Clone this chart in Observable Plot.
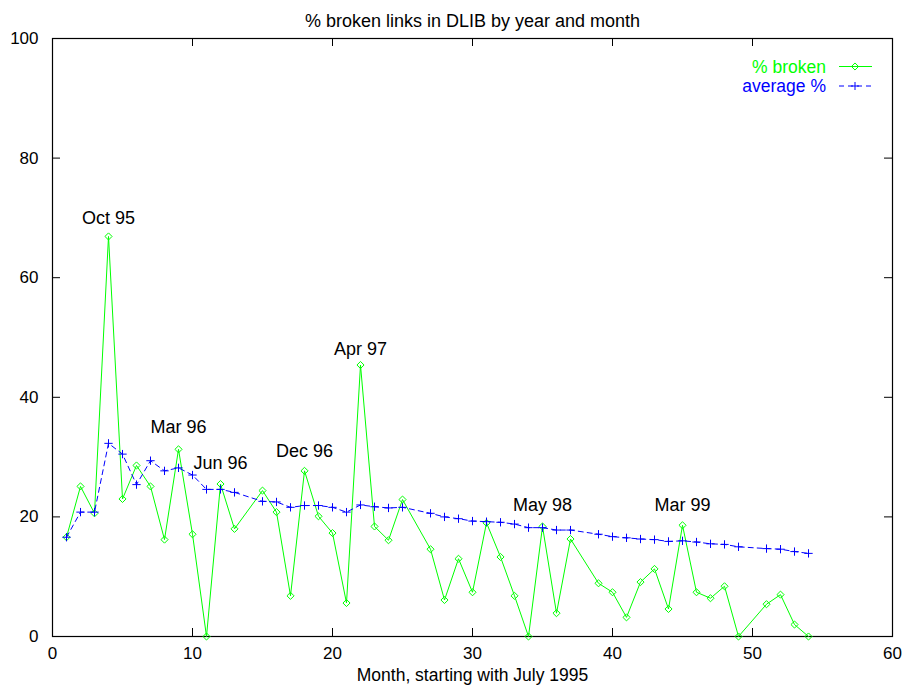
<!DOCTYPE html>
<html><head><meta charset="utf-8">
<script src="https://cdn.jsdelivr.net/npm/d3@7"></script>
<script src="https://cdn.jsdelivr.net/npm/@observablehq/plot@0.6"></script>
<style>body{margin:0;background:#fff}</style>
</head><body><div id="chart"></div>
<script>
// ---- data ----
const months = [1,2,3,4,5,6,7,8,9,10,11,12,13,
  15,16,17,18,19,20,21,22,23,24,25,
  27,28,29,30,31,32,33,34,35,36,37,
  39,40,41,42,43,44,45,46,47,48,49,
  51,52,53,54];
const brokenPct = [16.6,25.1,20.6,66.9,23.0,28.6,25.1,16.2,31.3,17.1,0,25.5,18.0,
  24.4,20.8,6.8,27.7,20.1,17.3,5.6,45.4,18.4,16.1,22.9,
  14.6,6.1,13.0,7.4,19.0,13.3,6.8,0,18.4,3.9,16.3,
  8.9,7.4,3.2,9.1,11.3,4.6,18.6,7.4,6.4,8.4,0,
  5.4,7.0,2.0,0];
const averagePct = [16.6,20.8,20.8,32.3,30.5,25.4,29.4,27.7,28.2,27.0,24.6,24.6,24.1,
  22.6,22.5,21.6,21.9,21.9,21.6,20.8,22.0,21.7,21.5,21.6,
  20.6,20.0,19.7,19.3,19.2,19.1,18.8,18.2,18.2,17.8,17.8,
  17.1,16.7,16.5,16.3,16.2,15.9,16.0,15.8,15.5,15.4,15.0,
  14.7,14.6,14.2,13.9];
const labelText = ["Oct 95","Mar 96","Jun 96","Dec 96","Apr 97","May 98","Mar 99"];
const labelMonth = [4,9,12,18,22,35,45];
const labelValue = [70,35,29,31,48,22,22];
const xTicks = [0,10,20,30,40,50,60];
const yTicks = [0,20,40,60,80,100];
const titleText = "% broken links in DLIB by year and month";
const xLabelText = "Month, starting with July 1995";
const seriesNames = ["% broken","average %"];
const seriesColors = ["#00ff00","#0000ff"];

// ---- tables ----
const broken = months.map((m,i)=>({month:m, value:brokenPct[i]}));
const average = months.map((m,i)=>({month:m, value:averagePct[i]}));
const notes = labelText.map((t,i)=>({text:t, month:labelMonth[i], value:labelValue[i]}));

const font = "'Liberation Sans', Arial, Helvetica, sans-serif";
const W = 905, H = 687, mL = 52, mR = 13, mT = 38, mB = 51, TICK = 8;
const fw = W - mL - mR, fh = H - mT - mB;

function legend(index, scales, values, dims) {
  const g = d3.create("svg:g");
  const right = dims.width - dims.marginRight;
  const rows = [
    {name: seriesNames[0], color: seriesColors[0], dash: null, sym: d3.symbolDiamond2, size: 32},
    {name: seriesNames[1], color: seriesColors[1], dash: "5,4", sym: d3.symbolPlus, size: 23}
  ];
  rows.forEach((r,i)=>{
    const y = dims.marginTop + 28.5 + i*19.5;
    g.append("text").attr("x", right-66).attr("y", y).attr("dy","0.35em")
      .attr("text-anchor","end").attr("fill", r.color)
      .attr("font-family", font).attr("font-size", 17.5).text(r.name);
    g.append("line").attr("x1", right-53).attr("x2", right-20).attr("y1", y).attr("y2", y)
      .attr("stroke", r.color).attr("stroke-width",1).attr("stroke-dasharray", r.dash);
    g.append("path").attr("transform",`translate(${right-37},${y})`)
      .attr("d", d3.symbol(r.sym, r.size)()).attr("fill","none").attr("stroke", r.color);
  });
  return g.node();
}

const chart = Plot.plot({
  width: W, height: H,
  marginLeft: mL, marginRight: mR, marginTop: mT, marginBottom: mB,
  style: {fontFamily: font, fontSize: "17px", background: "#fff", color: "#000", overflow: "visible"},
  x: {domain: [0,60]},
  y: {domain: [0,100]},
  marks: [
    Plot.frame({stroke: "#000", strokeWidth: 1.2}),
    Plot.tickX(xTicks, {x: d=>d, insetTop: fh - TICK, stroke: "#000"}),
    Plot.tickX(xTicks, {x: d=>d, insetBottom: fh - TICK, stroke: "#000"}),
    Plot.tickY(yTicks, {y: d=>d, insetRight: fw - TICK, stroke: "#000"}),
    Plot.tickY(yTicks, {y: d=>d, insetLeft: fw - TICK, stroke: "#000"}),
    Plot.axisX(xTicks, {anchor: "bottom", tickSize: 0, tickPadding: 10, label: null, fontSize: 17}),
    Plot.axisY(yTicks, {anchor: "left", tickSize: 0, tickPadding: 14, label: null, fontSize: 17}),
    Plot.line(broken, {x: "month", y: "value", stroke: seriesColors[0], strokeWidth: 1}),
    Plot.dot(broken, {x: "month", y: "value", symbol: "diamond2", r: 3.2, stroke: seriesColors[0], fill: "none", strokeWidth: 1}),
    Plot.line(average, {x: "month", y: "value", stroke: seriesColors[1], strokeWidth: 1, strokeDasharray: "5,4"}),
    Plot.dot(average, {x: "month", y: "value", symbol: "plus", r: 2.8, stroke: seriesColors[1], strokeWidth: 1}),
    Plot.text(notes, {x: "month", y: "value", text: "text", fill: "#000", fontSize: 18}),
    Plot.text([titleText], {frameAnchor: "top", lineAnchor: "middle", dy: -17, text: d=>d, fontSize: 18}),
    Plot.text([xLabelText], {frameAnchor: "bottom", lineAnchor: "middle", dy: 39, text: d=>d, fontSize: 17.5}),
    legend
  ]
});
document.getElementById("chart").appendChild(chart);
</script>
</body></html>
